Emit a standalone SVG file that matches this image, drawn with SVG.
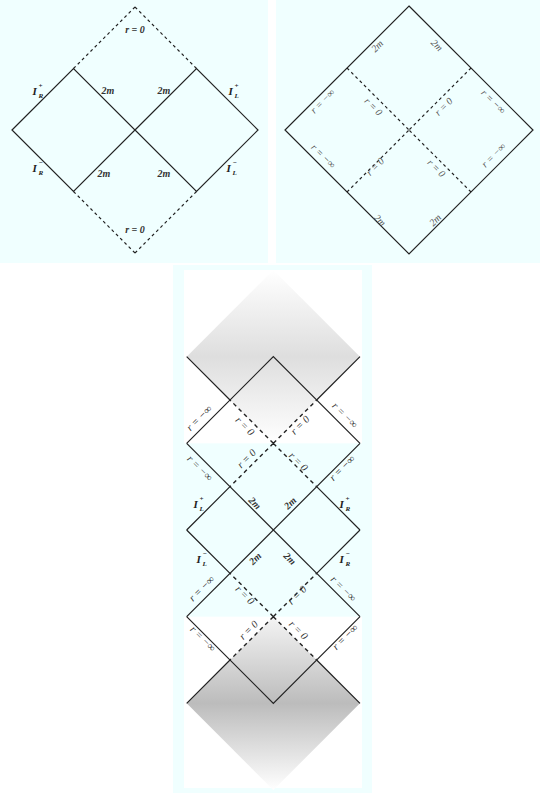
<svg xmlns="http://www.w3.org/2000/svg" width="540" height="798" viewBox="0 0 540 798">
<style>
.bg{fill:#f0ffff}
.s{fill:none;stroke:#222;stroke-width:1.2}
.d{fill:none;stroke:#222;stroke-width:1.2;stroke-dasharray:3 3}
.db{fill:none;stroke:#222;stroke-width:1.4;stroke-dasharray:4 3.5}
text{font-family:"Liberation Serif","DejaVu Serif",serif;font-style:italic;fill:#222}
.lb{font-size:10px;font-weight:bold;text-anchor:middle;dominant-baseline:central;fill:#333}
.lr{font-size:10px;text-anchor:middle;dominant-baseline:central;fill:#555}
.lg{font-size:10.5px;text-anchor:middle;dominant-baseline:central;fill:#333}
.I{font-size:11px;font-weight:bold}
.sp{font-size:7px;font-weight:bold}
</style>
<defs>
<linearGradient id="gTop" x1="0" y1="0" x2="0" y2="1">
<stop offset="0" stop-color="#ffffff"/>
<stop offset="0.5" stop-color="#dedede"/>
<stop offset="1" stop-color="#ffffff"/>
</linearGradient>
<linearGradient id="gBot" x1="0" y1="0" x2="0" y2="1">
<stop offset="0" stop-color="#f4f4f4"/>
<stop offset="0.5" stop-color="#bcbcbc"/>
<stop offset="1" stop-color="#ffffff"/>
</linearGradient>
</defs>
<rect width="540" height="798" fill="#ffffff"/>

<g id="panel-left">
<rect class="bg" x="0" y="0" width="268" height="263"/>
<g id="left-connectors">
<polygon class="s" points="12,130 73.5,68.5 135,130 73.5,191.5"/>
<polygon class="s" points="135,130 196.5,68.5 258,130 196.5,191.5"/>
<path class="d" d="M73.5,68.5 L135,7"/>
<path class="d" d="M196.5,68.5 L135,7"/>
<path class="d" d="M73.5,191.5 L135,253"/>
<path class="d" d="M196.5,191.5 L135,253"/>
</g>
<g id="left-labels">
<text class="lb" x="135" y="29">r = 0</text>
<text class="lb" x="135" y="229">r = 0</text>
<text class="lb" x="108" y="90">2m</text>
<text class="lb" x="164" y="90">2m</text>
<text class="lb" x="104" y="173">2m</text>
<text class="lb" x="164" y="173">2m</text>
<g id="IRp"><text class="I" x="32.5" y="94.5">I</text><text class="sp" x="38.5" y="88">+</text><text class="sp" x="38.5" y="97.5">R</text></g>
<g id="ILp"><text class="I" x="228.5" y="94.5">I</text><text class="sp" x="234.5" y="88">+</text><text class="sp" x="234.5" y="97.5">L</text></g>
<g id="IRm"><text class="I" x="32.5" y="171.5">I</text><text class="sp" x="38.5" y="165">−</text><text class="sp" x="38.5" y="174.5">R</text></g>
<g id="ILm"><text class="I" x="226.5" y="171.5">I</text><text class="sp" x="232.5" y="165">−</text><text class="sp" x="232.5" y="174.5">L</text></g>
</g>
</g>

<g id="panel-right">
<rect class="bg" x="276" y="0" width="264" height="263"/>
<g id="right-connectors">
<polygon class="s" points="409,6 533,130 409,254 285,130"/>
<path class="d" d="M347,68 L409,130"/>
<path class="d" d="M471,68 L409,130"/>
<path class="d" d="M347,192 L409,130"/>
<path class="d" d="M471,192 L409,130"/>
</g>
<g id="right-labels">
<text class="lr" transform="translate(377,46) rotate(-45)">2m</text>
<text class="lr" transform="translate(437,45) rotate(45)">2m</text>
<text class="lr" transform="translate(380,220) rotate(45)">2m</text>
<text class="lr" transform="translate(435,220) rotate(-45)">2m</text>
<text class="lr" transform="translate(322.5,101) rotate(-45)">r = −∞</text>
<text class="lr" transform="translate(373.5,106.5) rotate(45)">r = 0</text>
<text class="lr" transform="translate(443.5,106.5) rotate(-45)">r = 0</text>
<text class="lr" transform="translate(493.5,101.5) rotate(45)">r = −∞</text>
<text class="lr" transform="translate(323.5,156) rotate(45)">r = −∞</text>
<text class="lr" transform="translate(375,166.5) rotate(-45)">r = 0</text>
<text class="lr" transform="translate(436.5,168) rotate(45)">r = 0</text>
<text class="lr" transform="translate(493.5,155) rotate(-45)">r = −∞</text>
</g>
</g>

<g id="panel-bottom">
<rect class="bg" x="173" y="265" width="199" height="528"/>
<rect x="184" y="270" width="178" height="518" fill="#ffffff"/>
<rect class="bg" x="184" y="443.33" width="178" height="173.34"/>
<polygon id="gray-top" fill="url(#gTop)" points="273.33,270 360,356.67 273.33,443.33 186.67,356.67"/>
<polygon id="gray-bottom" fill="url(#gBot)" points="273.33,616.67 360,703.33 273.33,790 186.67,703.33"/>
<g id="bottom-connectors">
<path class="s" d="M186.67,443.33 L273.33,356.67 L360,443.33"/>
<path class="s" d="M186.67,356.67 L230,400 M316.67,486.67 L360,530"/>
<path class="s" d="M360,356.67 L316.67,400 M230,486.67 L186.67,530"/>
<path class="s" d="M186.67,443.33 L360,616.67"/>
<path class="s" d="M360,443.33 L186.67,616.67"/>
<path class="s" d="M186.67,530 L230,573.33 M316.67,660 L360,703.33"/>
<path class="s" d="M360,530 L316.67,573.33 M230,660 L186.67,703.33"/>
<path class="s" d="M186.67,616.67 L273.33,703.33 L360,616.67"/>
<path class="db" d="M273.33,443.33 L230,400 M273.33,443.33 L316.67,400 M273.33,443.33 L230,486.67 M273.33,443.33 L316.67,486.67"/>
<path class="db" d="M273.33,616.67 L230,573.33 M273.33,616.67 L316.67,573.33 M273.33,616.67 L230,660 M273.33,616.67 L316.67,660"/>
</g>
<g id="bottom-labels">
<text class="lg" transform="translate(199,418) rotate(-45)">r = −∞</text>
<text class="lg" transform="translate(245,426) rotate(45)">r = 0</text>
<text class="lg" transform="translate(300,425) rotate(-45)">r = 0</text>
<text class="lg" transform="translate(345,415) rotate(45)">r = −∞</text>
<text class="lg" transform="translate(200,468) rotate(45)">r = −∞</text>
<text class="lg" transform="translate(246.5,458.5) rotate(-45)">r = 0</text>
<text class="lg" transform="translate(298.5,461.5) rotate(45)">r = 0</text>
<text class="lg" transform="translate(342,468) rotate(-45)">r = −∞</text>
<text class="lb" transform="translate(255,503) rotate(45)">2m</text>
<text class="lb" transform="translate(290,503) rotate(-45)">2m</text>
<text class="lb" transform="translate(255,558.5) rotate(-45)">2m</text>
<text class="lb" transform="translate(290,558.5) rotate(45)">2m</text>
<g id="ILp2"><text class="I" x="193.5" y="507.5">I</text><text class="sp" x="199.5" y="501">+</text><text class="sp" x="199.5" y="510.5">L</text></g>
<g id="IRp2"><text class="I" x="339.5" y="507.5">I</text><text class="sp" x="345.5" y="501">+</text><text class="sp" x="345.5" y="510.5">R</text></g>
<g id="ILm2"><text class="I" x="196.5" y="562.5">I</text><text class="sp" x="202.5" y="556">−</text><text class="sp" x="202.5" y="565.5">L</text></g>
<g id="IRm2"><text class="I" x="339.5" y="562.5">I</text><text class="sp" x="345.5" y="556">−</text><text class="sp" x="345.5" y="565.5">R</text></g>
<text class="lg" transform="translate(201.5,588.5) rotate(-45)">r = −∞</text>
<text class="lg" transform="translate(245,595) rotate(45)">r = 0</text>
<text class="lg" transform="translate(297,595) rotate(-45)">r = 0</text>
<text class="lg" transform="translate(343.5,588.5) rotate(45)">r = −∞</text>
<text class="lg" transform="translate(203,638.5) rotate(45)">r = −∞</text>
<text class="lg" transform="translate(248.5,630) rotate(-45)">r = 0</text>
<text class="lg" transform="translate(298.5,630) rotate(45)">r = 0</text>
<text class="lg" transform="translate(345,637) rotate(-45)">r = −∞</text>
</g>
</g>
</svg>
